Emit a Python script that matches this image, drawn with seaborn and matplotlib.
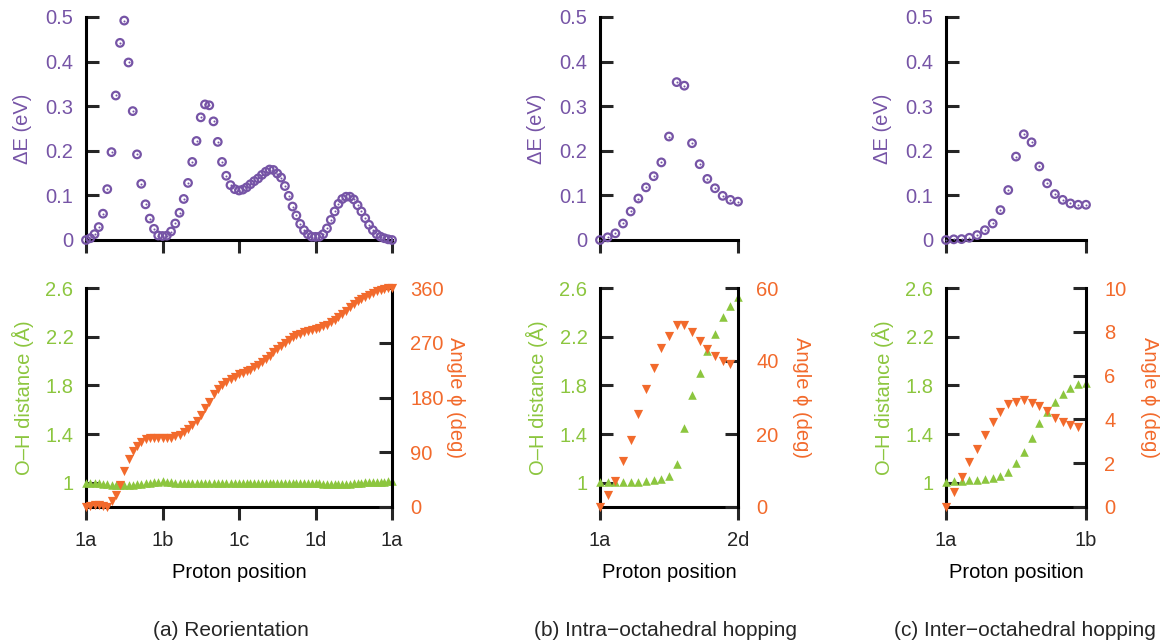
import numpy as np
import matplotlib
matplotlib.use('Agg')
import matplotlib.pyplot as plt
import seaborn as sns

# colours
purple = '#7654a6'
orange = '#f26a2c'
green = '#8cc63f'

# (a) Reorientation, path 1a -> 1b -> 1c -> 1d -> 1a
# images per leg: 19, 19, 21, 21 (shared end points dropped)
dE_a = [0, 0.004, 0.013, 0.029, 0.059, 0.114, 0.197, 0.324, 0.442, 0.492,
        0.398, 0.289, 0.192, 0.126, 0.080, 0.048, 0.025, 0.010, 0.009,
        0.0097, 0.019, 0.037, 0.061, 0.092, 0.128, 0.175, 0.222, 0.275,
        0.304, 0.302, 0.266, 0.220, 0.175, 0.144, 0.123, 0.114, 0.111,
        0.113, 0.118, 0.125, 0.132, 0.138, 0.146, 0.153, 0.158, 0.157, 0.149,
        0.140, 0.121, 0.099, 0.075, 0.055, 0.036, 0.022, 0.013, 0.0075, 0.007,
        0.0075, 0.013, 0.026, 0.045, 0.064, 0.081, 0.092, 0.097, 0.097, 0.091,
        0.078, 0.064, 0.049, 0.034, 0.022, 0.013, 0.0075, 0.004, 0.0015, 0.0]
oh_a = [1.0, 1.0, 0.998, 0.995, 0.99, 0.986, 0.983, 0.981, 0.98, 0.98,
        0.981, 0.983, 0.986, 0.99, 0.995, 1.0, 1.005, 1.009, 1.011,
        1.009, 1.005, 1.0, 0.997, 0.995, 0.994, 0.994, 0.995, 0.996,
        0.997, 0.998, 0.999, 1.0, 1.0, 1.0, 0.999, 0.998, 0.997,
        0.997, 0.997, 0.998, 0.999, 1.0, 1.0, 1.0, 0.999, 0.998, 0.997,
        0.997, 0.997, 0.998, 0.999, 1.0, 1.0, 1.0, 0.999, 0.998, 0.997,
        0.995, 0.992, 0.989, 0.987, 0.986, 0.986, 0.987, 0.989, 0.992, 0.995,
        0.998, 1.0, 1.002, 1.003, 1.004, 1.005, 1.006, 1.008, 1.01, 1.012]
phi_a = [0, 1.6, 2.7, 2.7, 2.2, 0.5, 10, 20, 36, 59,
         79, 92, 101, 107, 112, 113, 114, 114, 113,
         113, 114, 116, 119, 123, 129, 135, 142, 152,
         163, 173, 185, 194, 200, 206, 211, 214, 218,
         220, 223, 226, 230, 234, 238, 243, 248, 254, 260,
         265, 270, 275, 279, 282, 285, 287, 289, 290.5, 292,
         294, 297, 300, 304, 308, 313, 318, 323, 328, 333,
         338, 342, 346, 349, 352, 355, 357, 358.5, 359.5, 360]
ticks_a = ['1a', '1b', '1c', '1d', '1a']

# (b) Intra-octahedral hopping, 1a -> 2d
dE_b = [0, 0.006, 0.015, 0.037, 0.064, 0.093, 0.118, 0.143, 0.174, 0.232,
        0.354, 0.346, 0.217, 0.170, 0.137, 0.116, 0.099, 0.090, 0.086]
oh_b = [1.003, 1.008, 1.006, 1.006, 1.006, 1.008, 1.01, 1.019, 1.03, 1.055,
        1.153, 1.447, 1.72, 1.90, 2.08, 2.22, 2.364, 2.452, 2.528]
phi_b = [0, 3.2, 7.1, 12.5, 18.4, 25.5, 32.4, 38.2, 43.5, 46.8,
         49.8, 49.8, 48.0, 45.5, 43.3, 41.4, 40.0, 39.2]
ticks_b = ['1a', '2d']

# (c) Inter-octahedral hopping, 1a -> 1b
dE_c = [0, 0.0015, 0.002, 0.005, 0.011, 0.022, 0.037, 0.067, 0.112, 0.187,
        0.237, 0.219, 0.165, 0.127, 0.103, 0.090, 0.082, 0.079, 0.079]
oh_c = [1.003, 1.011, 1.016, 1.019, 1.022, 1.027, 1.036, 1.055, 1.088, 1.159,
        1.249, 1.37, 1.488, 1.584, 1.666, 1.729, 1.781, 1.811, 1.822]
phi_c = [0, 0.68, 1.39, 2.05, 2.66, 3.29, 3.88, 4.32, 4.72, 4.81,
         4.89, 4.76, 4.63, 4.40, 4.05, 3.88, 3.74, 3.67]
ticks_c = ['1a', '1b']

captions = ['(a) Reorientation', '(b) Intra\u2212octahedral hopping',
            '(c) Inter\u2212octahedral hopping']

x_a = np.concatenate([np.linspace(0, 1, 19), np.linspace(1, 2, 19)[1:],
                      np.linspace(2, 3, 21)[1:], np.linspace(3, 4, 21)[1:]])
x_bc = np.linspace(0, 1, 19)

sns.set_style('ticks')
plt.rcParams['font.family'] = ['Liberation Sans', 'DejaVu Sans']
plt.rcParams['font.size'] = 14.5

W, H = 1166, 643
fig = plt.figure(figsize=(W / 100, H / 100), dpi=100)


def box(l, t, r, b):
    return [l / W, 1 - b / H, (r - l) / W, (b - t) / H]


LW = 2.2
TL = 9.4


def style_left(ax, color):
    for s in ['top', 'right']:
        ax.spines[s].set_visible(False)
    for s in ['left', 'bottom']:
        ax.spines[s].set_linewidth(LW)
        ax.spines[s].set_color('black')
    ax.tick_params(axis='y', direction='in', length=TL, width=LW,
                   pad=9, labelcolor=color, labelsize=14.5)
    ax.tick_params(axis='x', direction='out', length=TL, width=LW,
                   pad=8, labelsize=14.5)


def energy_panel(ax, x, y, xlim, xticks):
    # open circle with a dot in the middle
    sns.scatterplot(x=x, y=y, ax=ax, marker='o', s=30, color=purple,
                    facecolor='none', edgecolor=purple, linewidth=1.6,
                    clip_on=False, zorder=3, legend=False)
    sns.scatterplot(x=x, y=y, ax=ax, marker='o', s=2.2, color=purple,
                    linewidth=0, clip_on=False, zorder=4, legend=False)
    ax.set_xlim(*xlim)
    ax.set_ylim(0, 0.5)
    ax.set_xticks(xticks)
    ax.set_xticklabels([])
    ax.set_yticks([0, 0.1, 0.2, 0.3, 0.4, 0.5])
    ax.set_yticklabels(['0', '0.1', '0.2', '0.3', '0.4', '0.5'])
    ax.set_xlabel('')
    ax.set_ylabel('')
    style_left(ax, purple)


def path_panel(ax, x, oh, phi, xlim, xticks, xticklabels, phimax, phiticks):
    sns.scatterplot(x=x[:len(oh)], y=oh, ax=ax, marker='^', s=38, color=green,
                    linewidth=0, clip_on=False, zorder=3, legend=False)
    ax.set_xlim(*xlim)
    ax.set_ylim(0.8, 2.6)
    ax.set_yticks([1, 1.4, 1.8, 2.2, 2.6])
    ax.set_yticklabels(['1', '1.4', '1.8', '2.2', '2.6'])
    ax.set_xticks(xticks)
    ax.set_xticklabels(xticklabels)
    ax.set_xlabel('')
    ax.set_ylabel('')
    style_left(ax, green)
    tw = ax.twinx()
    sns.scatterplot(x=x[:len(phi)], y=phi, ax=tw, marker='v', s=44, color=orange,
                    linewidth=0, clip_on=False, zorder=3, legend=False)
    tw.set_ylim(0, phimax)
    tw.set_yticks(phiticks)
    tw.set_yticklabels([f'{v:g}' for v in phiticks])
    tw.set_ylabel('')
    for s in ['top', 'left', 'bottom']:
        tw.spines[s].set_visible(False)
    tw.spines['right'].set_linewidth(LW)
    tw.spines['right'].set_color('black')
    tw.tick_params(axis='y', direction='in', length=TL, width=LW,
                   pad=13, labelcolor=orange, labelsize=14.5)
    return tw


# pixel extents of each column: left axis, right axis
cols = [(86, 392), (600, 738), (946, 1086)]
top_tb = (17, 240)
bot_tb = (288, 507)

panels = [
    (x_a, dE_a, oh_a, phi_a, (0, 4), [0, 1, 2, 3, 4], ticks_a, 360, [0, 90, 180, 270, 360]),
    (x_bc, dE_b, oh_b, phi_b, (0, 1), [0, 1], ticks_b, 60, [0, 20, 40, 60]),
    (x_bc, dE_c, oh_c, phi_c, (0, 1), [0, 1], ticks_c, 10, [0, 2, 4, 6, 8, 10]),
]

for (l, r), p in zip(cols, panels):
    x, dE, oh, phi, xlim, xt, xtl, pmax, pt = p
    ax1 = fig.add_axes(box(l, top_tb[0], r, top_tb[1]))
    energy_panel(ax1, x, dE, xlim, xt)
    ax2 = fig.add_axes(box(l, bot_tb[0], r, bot_tb[1]))
    path_panel(ax2, x, oh, phi, xlim, xt, xtl, pmax, pt)

    fig.text((l - 63) / W, 1 - 128.5 / H, '\u0394E (eV)', color=purple,
             rotation=90, ha='center', va='center', fontsize=14.5)
    fig.text((l - 63) / W, 1 - 397.5 / H, 'O\u2013H distance (\u00c5)', color=green,
             rotation=90, ha='center', va='center', fontsize=14.5)
    fig.text((r + 64) / W, 1 - 397.5 / H, 'Angle \u03d5 (deg)', color=orange,
             rotation=270, ha='center', va='center', fontsize=14.5)
    fig.text((l + r) / 2 / W, 1 - 573 / H, 'Proton position', color='black',
             ha='center', va='center', fontsize=14.5)

cap_x = [231, 665, 1025]
for cx, cap in zip(cap_x, captions):
    fig.text(cx / W, 1 - 630 / H, cap, ha='center', va='center', fontsize=15)

fig.savefig('out.png', dpi=100)
